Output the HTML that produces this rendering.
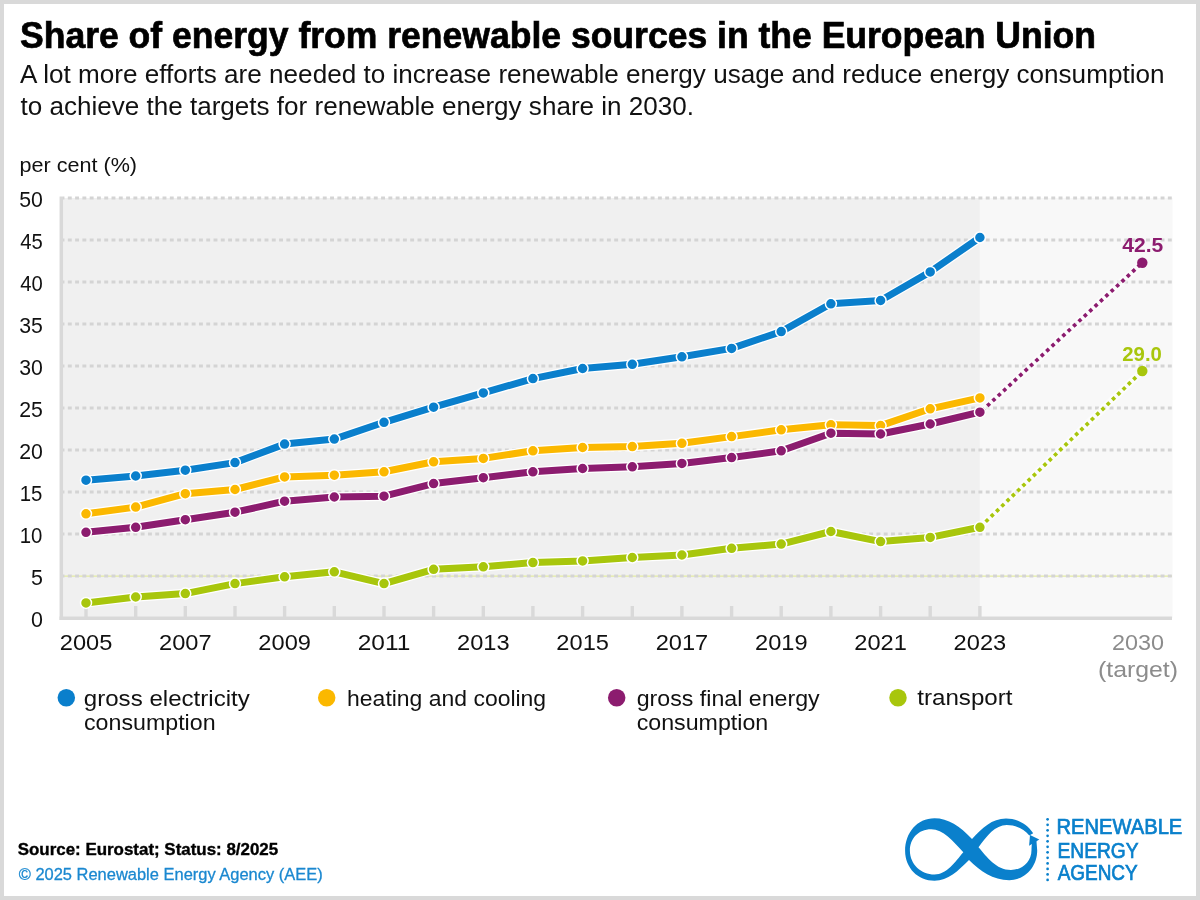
<!DOCTYPE html><html><head><meta charset="utf-8"><title>Share of energy from renewable sources in the European Union</title>
<style>html,body{margin:0;padding:0;background:#d9d9d9;}svg{display:block;}text{font-family:"Liberation Sans",Arial,sans-serif;}</style></head><body>
<svg width="1200" height="900" viewBox="0 0 1200 900">
<rect x="0" y="0" width="1200" height="900" fill="#d9d9d9"/>
<rect x="4" y="4" width="1192" height="892" fill="#ffffff"/>
<text x="20.00" y="47.50" font-size="36" font-weight="bold" fill="#000" textLength="1076.01" lengthAdjust="spacingAndGlyphs" stroke="#000" stroke-width="0.7">Share of energy from renewable sources in the European Union</text>
<text x="20.00" y="82.80" font-size="25" fill="#111111" textLength="1144.50" lengthAdjust="spacingAndGlyphs">A lot more efforts are needed to increase renewable energy usage and reduce energy consumption</text>
<text x="20.50" y="114.70" font-size="25" fill="#111111" textLength="673.51" lengthAdjust="spacingAndGlyphs">to achieve the targets for renewable energy share in 2030.</text>
<text x="19.50" y="171.90" font-size="21" fill="#111111" textLength="117.55" lengthAdjust="spacingAndGlyphs">per cent (%)</text>
<rect x="61" y="198" width="918.9" height="420" fill="#f0f0f0"/>
<rect x="979.9" y="198" width="192.6" height="420" fill="#f8f8f8"/>
<line x1="63" y1="576.2" x2="1172" y2="576.2" stroke="#e3eba0" stroke-width="1.2"/>
<line x1="63" y1="576.0" x2="1172" y2="576.0" stroke="#d4d4d4" stroke-width="3" stroke-dasharray="3.9 3.385" stroke-dashoffset="2.45"/>
<line x1="63" y1="534.0" x2="1172" y2="534.0" stroke="#d4d4d4" stroke-width="3" stroke-dasharray="3.9 3.385" stroke-dashoffset="2.45"/>
<line x1="63" y1="492.0" x2="1172" y2="492.0" stroke="#d4d4d4" stroke-width="3" stroke-dasharray="3.9 3.385" stroke-dashoffset="2.45"/>
<line x1="63" y1="450.0" x2="1172" y2="450.0" stroke="#d4d4d4" stroke-width="3" stroke-dasharray="3.9 3.385" stroke-dashoffset="2.45"/>
<line x1="63" y1="408.0" x2="1172" y2="408.0" stroke="#d4d4d4" stroke-width="3" stroke-dasharray="3.9 3.385" stroke-dashoffset="2.45"/>
<line x1="63" y1="366.0" x2="1172" y2="366.0" stroke="#d4d4d4" stroke-width="3" stroke-dasharray="3.9 3.385" stroke-dashoffset="2.45"/>
<line x1="63" y1="324.0" x2="1172" y2="324.0" stroke="#d4d4d4" stroke-width="3" stroke-dasharray="3.9 3.385" stroke-dashoffset="2.45"/>
<line x1="63" y1="282.0" x2="1172" y2="282.0" stroke="#d4d4d4" stroke-width="3" stroke-dasharray="3.9 3.385" stroke-dashoffset="2.45"/>
<line x1="63" y1="240.0" x2="1172" y2="240.0" stroke="#d4d4d4" stroke-width="3" stroke-dasharray="3.9 3.385" stroke-dashoffset="2.45"/>
<line x1="63" y1="198.0" x2="1172" y2="198.0" stroke="#d4d4d4" stroke-width="3" stroke-dasharray="3.9 3.385" stroke-dashoffset="2.45"/>
<text x="31.00" y="626.60" font-size="22" fill="#111111" textLength="11.93" lengthAdjust="spacingAndGlyphs">0</text>
<text x="31.00" y="584.60" font-size="22" fill="#111111" textLength="11.93" lengthAdjust="spacingAndGlyphs">5</text>
<text x="19.80" y="542.60" font-size="22" fill="#111111" textLength="22.66" lengthAdjust="spacingAndGlyphs">10</text>
<text x="19.80" y="500.60" font-size="22" fill="#111111" textLength="22.66" lengthAdjust="spacingAndGlyphs">15</text>
<text x="19.20" y="458.60" font-size="22" fill="#111111" textLength="23.68" lengthAdjust="spacingAndGlyphs">20</text>
<text x="19.20" y="416.60" font-size="22" fill="#111111" textLength="23.68" lengthAdjust="spacingAndGlyphs">25</text>
<text x="19.20" y="374.60" font-size="22" fill="#111111" textLength="23.68" lengthAdjust="spacingAndGlyphs">30</text>
<text x="19.20" y="332.60" font-size="22" fill="#111111" textLength="23.68" lengthAdjust="spacingAndGlyphs">35</text>
<text x="20.20" y="290.60" font-size="22" fill="#111111" textLength="22.55" lengthAdjust="spacingAndGlyphs">40</text>
<text x="20.20" y="248.60" font-size="22" fill="#111111" textLength="22.55" lengthAdjust="spacingAndGlyphs">45</text>
<text x="19.20" y="206.60" font-size="22" fill="#111111" textLength="23.68" lengthAdjust="spacingAndGlyphs">50</text>
<line x1="61.3" y1="196.5" x2="61.3" y2="619.9" stroke="#d9d9d9" stroke-width="3.5"/>
<line x1="59.5" y1="618.2" x2="1172" y2="618.2" stroke="#d9d9d9" stroke-width="3.5"/>
<line x1="86.0" y1="606" x2="86.0" y2="618" stroke="#d9d9d9" stroke-width="3.4"/>
<line x1="135.7" y1="606" x2="135.7" y2="618" stroke="#d9d9d9" stroke-width="3.4"/>
<line x1="185.3" y1="606" x2="185.3" y2="618" stroke="#d9d9d9" stroke-width="3.4"/>
<line x1="235.0" y1="606" x2="235.0" y2="618" stroke="#d9d9d9" stroke-width="3.4"/>
<line x1="284.6" y1="606" x2="284.6" y2="618" stroke="#d9d9d9" stroke-width="3.4"/>
<line x1="334.3" y1="606" x2="334.3" y2="618" stroke="#d9d9d9" stroke-width="3.4"/>
<line x1="384.0" y1="606" x2="384.0" y2="618" stroke="#d9d9d9" stroke-width="3.4"/>
<line x1="433.6" y1="606" x2="433.6" y2="618" stroke="#d9d9d9" stroke-width="3.4"/>
<line x1="483.3" y1="606" x2="483.3" y2="618" stroke="#d9d9d9" stroke-width="3.4"/>
<line x1="532.9" y1="606" x2="532.9" y2="618" stroke="#d9d9d9" stroke-width="3.4"/>
<line x1="582.6" y1="606" x2="582.6" y2="618" stroke="#d9d9d9" stroke-width="3.4"/>
<line x1="632.3" y1="606" x2="632.3" y2="618" stroke="#d9d9d9" stroke-width="3.4"/>
<line x1="681.9" y1="606" x2="681.9" y2="618" stroke="#d9d9d9" stroke-width="3.4"/>
<line x1="731.6" y1="606" x2="731.6" y2="618" stroke="#d9d9d9" stroke-width="3.4"/>
<line x1="781.2" y1="606" x2="781.2" y2="618" stroke="#d9d9d9" stroke-width="3.4"/>
<line x1="830.9" y1="606" x2="830.9" y2="618" stroke="#d9d9d9" stroke-width="3.4"/>
<line x1="880.6" y1="606" x2="880.6" y2="618" stroke="#d9d9d9" stroke-width="3.4"/>
<line x1="930.2" y1="606" x2="930.2" y2="618" stroke="#d9d9d9" stroke-width="3.4"/>
<line x1="979.9" y1="606" x2="979.9" y2="618" stroke="#d9d9d9" stroke-width="3.4"/>
<text x="59.75" y="650.30" font-size="22" fill="#111111" textLength="52.61" lengthAdjust="spacingAndGlyphs">2005</text>
<text x="159.07" y="650.30" font-size="22" fill="#111111" textLength="52.61" lengthAdjust="spacingAndGlyphs">2007</text>
<text x="258.39" y="650.30" font-size="22" fill="#111111" textLength="52.61" lengthAdjust="spacingAndGlyphs">2009</text>
<text x="357.71" y="650.30" font-size="22" fill="#111111" textLength="52.61" lengthAdjust="spacingAndGlyphs">2011</text>
<text x="457.03" y="650.30" font-size="22" fill="#111111" textLength="52.61" lengthAdjust="spacingAndGlyphs">2013</text>
<text x="556.35" y="650.30" font-size="22" fill="#111111" textLength="52.61" lengthAdjust="spacingAndGlyphs">2015</text>
<text x="655.67" y="650.30" font-size="22" fill="#111111" textLength="52.61" lengthAdjust="spacingAndGlyphs">2017</text>
<text x="754.99" y="650.30" font-size="22" fill="#111111" textLength="52.61" lengthAdjust="spacingAndGlyphs">2019</text>
<text x="854.31" y="650.30" font-size="22" fill="#111111" textLength="52.61" lengthAdjust="spacingAndGlyphs">2021</text>
<text x="953.63" y="650.30" font-size="22" fill="#111111" textLength="52.61" lengthAdjust="spacingAndGlyphs">2023</text>
<text x="1112.00" y="650.30" font-size="22" fill="#8c8c8c" textLength="52.05" lengthAdjust="spacingAndGlyphs">2030</text>
<text x="1098.00" y="677.00" font-size="22" fill="#8c8c8c" textLength="80.05" lengthAdjust="spacingAndGlyphs">(target)</text>
<line x1="979.9" y1="412.7" x2="1142.3" y2="262.7" stroke="#ffffff" stroke-opacity="0.5" stroke-width="7.5"/>
<line x1="979.9" y1="412.7" x2="1142.3" y2="262.7" stroke="#8c1c6f" stroke-width="3.7" stroke-dasharray="3.6 3.72" stroke-dashoffset="4.68"/>
<circle cx="1142.3" cy="262.7" r="5.2" fill="#8c1c6f"/>
<line x1="979.9" y1="527.3" x2="1142.3" y2="371.0" stroke="#ffffff" stroke-opacity="0.5" stroke-width="7.5"/>
<line x1="979.9" y1="527.3" x2="1142.3" y2="371.0" stroke="#a8c60c" stroke-width="3.7" stroke-dasharray="3.6 3.72" stroke-dashoffset="6.62"/>
<circle cx="1142.3" cy="371.0" r="5.2" fill="#a8c60c"/>
<text x="1122.20" y="252.20" font-size="20" font-weight="bold" fill="#8c1c6f" textLength="41.03" lengthAdjust="spacingAndGlyphs">42.5</text>
<text x="1122.30" y="361.00" font-size="20" font-weight="bold" fill="#a8c60c" textLength="39.60" lengthAdjust="spacingAndGlyphs">29.0</text>
<polyline points="86.0,480.2 135.7,476.0 185.3,470.2 235.0,462.6 284.6,444.1 334.3,439.1 384.0,422.3 433.6,407.2 483.3,392.9 532.9,378.6 582.6,368.5 632.3,364.3 681.9,356.8 731.6,348.4 781.2,331.6 830.9,303.8 880.6,300.5 930.2,271.9 979.9,237.5" fill="none" stroke="#ffffff" stroke-width="9.5" stroke-linejoin="round"/>
<polyline points="86.0,480.2 135.7,476.0 185.3,470.2 235.0,462.6 284.6,444.1 334.3,439.1 384.0,422.3 433.6,407.2 483.3,392.9 532.9,378.6 582.6,368.5 632.3,364.3 681.9,356.8 731.6,348.4 781.2,331.6 830.9,303.8 880.6,300.5 930.2,271.9 979.9,237.5" fill="none" stroke="#0a7fcc" stroke-width="7" stroke-linejoin="round"/>
<circle cx="86.0" cy="480.2" r="5.5" fill="#0a7fcc" stroke="#fff" stroke-width="1.5"/>
<circle cx="135.7" cy="476.0" r="5.5" fill="#0a7fcc" stroke="#fff" stroke-width="1.5"/>
<circle cx="185.3" cy="470.2" r="5.5" fill="#0a7fcc" stroke="#fff" stroke-width="1.5"/>
<circle cx="235.0" cy="462.6" r="5.5" fill="#0a7fcc" stroke="#fff" stroke-width="1.5"/>
<circle cx="284.6" cy="444.1" r="5.5" fill="#0a7fcc" stroke="#fff" stroke-width="1.5"/>
<circle cx="334.3" cy="439.1" r="5.5" fill="#0a7fcc" stroke="#fff" stroke-width="1.5"/>
<circle cx="384.0" cy="422.3" r="5.5" fill="#0a7fcc" stroke="#fff" stroke-width="1.5"/>
<circle cx="433.6" cy="407.2" r="5.5" fill="#0a7fcc" stroke="#fff" stroke-width="1.5"/>
<circle cx="483.3" cy="392.9" r="5.5" fill="#0a7fcc" stroke="#fff" stroke-width="1.5"/>
<circle cx="532.9" cy="378.6" r="5.5" fill="#0a7fcc" stroke="#fff" stroke-width="1.5"/>
<circle cx="582.6" cy="368.5" r="5.5" fill="#0a7fcc" stroke="#fff" stroke-width="1.5"/>
<circle cx="632.3" cy="364.3" r="5.5" fill="#0a7fcc" stroke="#fff" stroke-width="1.5"/>
<circle cx="681.9" cy="356.8" r="5.5" fill="#0a7fcc" stroke="#fff" stroke-width="1.5"/>
<circle cx="731.6" cy="348.4" r="5.5" fill="#0a7fcc" stroke="#fff" stroke-width="1.5"/>
<circle cx="781.2" cy="331.6" r="5.5" fill="#0a7fcc" stroke="#fff" stroke-width="1.5"/>
<circle cx="830.9" cy="303.8" r="5.5" fill="#0a7fcc" stroke="#fff" stroke-width="1.5"/>
<circle cx="880.6" cy="300.5" r="5.5" fill="#0a7fcc" stroke="#fff" stroke-width="1.5"/>
<circle cx="930.2" cy="271.9" r="5.5" fill="#0a7fcc" stroke="#fff" stroke-width="1.5"/>
<circle cx="979.9" cy="237.5" r="5.5" fill="#0a7fcc" stroke="#fff" stroke-width="1.5"/>
<polyline points="86.0,513.8 135.7,507.1 185.3,493.7 235.0,489.5 284.6,476.9 334.3,475.2 384.0,471.8 433.6,461.8 483.3,458.4 532.9,450.8 582.6,447.5 632.3,446.6 681.9,443.3 731.6,436.6 781.2,429.8 830.9,424.8 880.6,425.6 930.2,408.8 979.9,397.9" fill="none" stroke="#ffffff" stroke-width="9.5" stroke-linejoin="round"/>
<polyline points="86.0,513.8 135.7,507.1 185.3,493.7 235.0,489.5 284.6,476.9 334.3,475.2 384.0,471.8 433.6,461.8 483.3,458.4 532.9,450.8 582.6,447.5 632.3,446.6 681.9,443.3 731.6,436.6 781.2,429.8 830.9,424.8 880.6,425.6 930.2,408.8 979.9,397.9" fill="none" stroke="#fbb800" stroke-width="7" stroke-linejoin="round"/>
<circle cx="86.0" cy="513.8" r="5.5" fill="#fbb800" stroke="#fff" stroke-width="1.5"/>
<circle cx="135.7" cy="507.1" r="5.5" fill="#fbb800" stroke="#fff" stroke-width="1.5"/>
<circle cx="185.3" cy="493.7" r="5.5" fill="#fbb800" stroke="#fff" stroke-width="1.5"/>
<circle cx="235.0" cy="489.5" r="5.5" fill="#fbb800" stroke="#fff" stroke-width="1.5"/>
<circle cx="284.6" cy="476.9" r="5.5" fill="#fbb800" stroke="#fff" stroke-width="1.5"/>
<circle cx="334.3" cy="475.2" r="5.5" fill="#fbb800" stroke="#fff" stroke-width="1.5"/>
<circle cx="384.0" cy="471.8" r="5.5" fill="#fbb800" stroke="#fff" stroke-width="1.5"/>
<circle cx="433.6" cy="461.8" r="5.5" fill="#fbb800" stroke="#fff" stroke-width="1.5"/>
<circle cx="483.3" cy="458.4" r="5.5" fill="#fbb800" stroke="#fff" stroke-width="1.5"/>
<circle cx="532.9" cy="450.8" r="5.5" fill="#fbb800" stroke="#fff" stroke-width="1.5"/>
<circle cx="582.6" cy="447.5" r="5.5" fill="#fbb800" stroke="#fff" stroke-width="1.5"/>
<circle cx="632.3" cy="446.6" r="5.5" fill="#fbb800" stroke="#fff" stroke-width="1.5"/>
<circle cx="681.9" cy="443.3" r="5.5" fill="#fbb800" stroke="#fff" stroke-width="1.5"/>
<circle cx="731.6" cy="436.6" r="5.5" fill="#fbb800" stroke="#fff" stroke-width="1.5"/>
<circle cx="781.2" cy="429.8" r="5.5" fill="#fbb800" stroke="#fff" stroke-width="1.5"/>
<circle cx="830.9" cy="424.8" r="5.5" fill="#fbb800" stroke="#fff" stroke-width="1.5"/>
<circle cx="880.6" cy="425.6" r="5.5" fill="#fbb800" stroke="#fff" stroke-width="1.5"/>
<circle cx="930.2" cy="408.8" r="5.5" fill="#fbb800" stroke="#fff" stroke-width="1.5"/>
<circle cx="979.9" cy="397.9" r="5.5" fill="#fbb800" stroke="#fff" stroke-width="1.5"/>
<polyline points="86.0,532.3 135.7,527.3 185.3,519.7 235.0,512.2 284.6,501.2 334.3,497.0 384.0,496.2 433.6,483.6 483.3,477.7 532.9,471.8 582.6,468.5 632.3,466.8 681.9,463.4 731.6,457.6 781.2,450.8 830.9,433.2 880.6,434.0 930.2,424.0 979.9,412.2" fill="none" stroke="#ffffff" stroke-width="9.5" stroke-linejoin="round"/>
<polyline points="86.0,532.3 135.7,527.3 185.3,519.7 235.0,512.2 284.6,501.2 334.3,497.0 384.0,496.2 433.6,483.6 483.3,477.7 532.9,471.8 582.6,468.5 632.3,466.8 681.9,463.4 731.6,457.6 781.2,450.8 830.9,433.2 880.6,434.0 930.2,424.0 979.9,412.2" fill="none" stroke="#8c1c6f" stroke-width="7" stroke-linejoin="round"/>
<circle cx="86.0" cy="532.3" r="5.5" fill="#8c1c6f" stroke="#fff" stroke-width="1.5"/>
<circle cx="135.7" cy="527.3" r="5.5" fill="#8c1c6f" stroke="#fff" stroke-width="1.5"/>
<circle cx="185.3" cy="519.7" r="5.5" fill="#8c1c6f" stroke="#fff" stroke-width="1.5"/>
<circle cx="235.0" cy="512.2" r="5.5" fill="#8c1c6f" stroke="#fff" stroke-width="1.5"/>
<circle cx="284.6" cy="501.2" r="5.5" fill="#8c1c6f" stroke="#fff" stroke-width="1.5"/>
<circle cx="334.3" cy="497.0" r="5.5" fill="#8c1c6f" stroke="#fff" stroke-width="1.5"/>
<circle cx="384.0" cy="496.2" r="5.5" fill="#8c1c6f" stroke="#fff" stroke-width="1.5"/>
<circle cx="433.6" cy="483.6" r="5.5" fill="#8c1c6f" stroke="#fff" stroke-width="1.5"/>
<circle cx="483.3" cy="477.7" r="5.5" fill="#8c1c6f" stroke="#fff" stroke-width="1.5"/>
<circle cx="532.9" cy="471.8" r="5.5" fill="#8c1c6f" stroke="#fff" stroke-width="1.5"/>
<circle cx="582.6" cy="468.5" r="5.5" fill="#8c1c6f" stroke="#fff" stroke-width="1.5"/>
<circle cx="632.3" cy="466.8" r="5.5" fill="#8c1c6f" stroke="#fff" stroke-width="1.5"/>
<circle cx="681.9" cy="463.4" r="5.5" fill="#8c1c6f" stroke="#fff" stroke-width="1.5"/>
<circle cx="731.6" cy="457.6" r="5.5" fill="#8c1c6f" stroke="#fff" stroke-width="1.5"/>
<circle cx="781.2" cy="450.8" r="5.5" fill="#8c1c6f" stroke="#fff" stroke-width="1.5"/>
<circle cx="830.9" cy="433.2" r="5.5" fill="#8c1c6f" stroke="#fff" stroke-width="1.5"/>
<circle cx="880.6" cy="434.0" r="5.5" fill="#8c1c6f" stroke="#fff" stroke-width="1.5"/>
<circle cx="930.2" cy="424.0" r="5.5" fill="#8c1c6f" stroke="#fff" stroke-width="1.5"/>
<circle cx="979.9" cy="412.2" r="5.5" fill="#8c1c6f" stroke="#fff" stroke-width="1.5"/>
<polyline points="86.0,602.9 135.7,597.0 185.3,593.6 235.0,583.6 284.6,576.8 334.3,571.8 384.0,583.6 433.6,569.3 483.3,566.8 532.9,562.6 582.6,560.9 632.3,557.5 681.9,555.0 731.6,548.3 781.2,544.1 830.9,531.5 880.6,541.6 930.2,537.4 979.9,527.3" fill="none" stroke="#ffffff" stroke-width="9.5" stroke-linejoin="round"/>
<polyline points="86.0,602.9 135.7,597.0 185.3,593.6 235.0,583.6 284.6,576.8 334.3,571.8 384.0,583.6 433.6,569.3 483.3,566.8 532.9,562.6 582.6,560.9 632.3,557.5 681.9,555.0 731.6,548.3 781.2,544.1 830.9,531.5 880.6,541.6 930.2,537.4 979.9,527.3" fill="none" stroke="#a8c60c" stroke-width="7" stroke-linejoin="round"/>
<circle cx="86.0" cy="602.9" r="5.5" fill="#a8c60c" stroke="#fff" stroke-width="1.5"/>
<circle cx="135.7" cy="597.0" r="5.5" fill="#a8c60c" stroke="#fff" stroke-width="1.5"/>
<circle cx="185.3" cy="593.6" r="5.5" fill="#a8c60c" stroke="#fff" stroke-width="1.5"/>
<circle cx="235.0" cy="583.6" r="5.5" fill="#a8c60c" stroke="#fff" stroke-width="1.5"/>
<circle cx="284.6" cy="576.8" r="5.5" fill="#a8c60c" stroke="#fff" stroke-width="1.5"/>
<circle cx="334.3" cy="571.8" r="5.5" fill="#a8c60c" stroke="#fff" stroke-width="1.5"/>
<circle cx="384.0" cy="583.6" r="5.5" fill="#a8c60c" stroke="#fff" stroke-width="1.5"/>
<circle cx="433.6" cy="569.3" r="5.5" fill="#a8c60c" stroke="#fff" stroke-width="1.5"/>
<circle cx="483.3" cy="566.8" r="5.5" fill="#a8c60c" stroke="#fff" stroke-width="1.5"/>
<circle cx="532.9" cy="562.6" r="5.5" fill="#a8c60c" stroke="#fff" stroke-width="1.5"/>
<circle cx="582.6" cy="560.9" r="5.5" fill="#a8c60c" stroke="#fff" stroke-width="1.5"/>
<circle cx="632.3" cy="557.5" r="5.5" fill="#a8c60c" stroke="#fff" stroke-width="1.5"/>
<circle cx="681.9" cy="555.0" r="5.5" fill="#a8c60c" stroke="#fff" stroke-width="1.5"/>
<circle cx="731.6" cy="548.3" r="5.5" fill="#a8c60c" stroke="#fff" stroke-width="1.5"/>
<circle cx="781.2" cy="544.1" r="5.5" fill="#a8c60c" stroke="#fff" stroke-width="1.5"/>
<circle cx="830.9" cy="531.5" r="5.5" fill="#a8c60c" stroke="#fff" stroke-width="1.5"/>
<circle cx="880.6" cy="541.6" r="5.5" fill="#a8c60c" stroke="#fff" stroke-width="1.5"/>
<circle cx="930.2" cy="537.4" r="5.5" fill="#a8c60c" stroke="#fff" stroke-width="1.5"/>
<circle cx="979.9" cy="527.3" r="5.5" fill="#a8c60c" stroke="#fff" stroke-width="1.5"/>
<circle cx="66.3" cy="697.8" r="8.75" fill="#0a7fcc"/>
<circle cx="326.7" cy="697.8" r="8.75" fill="#fbb800"/>
<circle cx="616.7" cy="697.8" r="8.75" fill="#8c1c6f"/>
<circle cx="898.0" cy="697.8" r="8.75" fill="#a8c60c"/>
<text x="83.80" y="705.50" font-size="22" fill="#111111" textLength="166.01" lengthAdjust="spacingAndGlyphs">gross electricity</text>
<text x="84.00" y="729.50" font-size="22" fill="#111111" textLength="131.54" lengthAdjust="spacingAndGlyphs">consumption</text>
<text x="347.10" y="705.50" font-size="22" fill="#111111" textLength="199.03" lengthAdjust="spacingAndGlyphs">heating and cooling</text>
<text x="636.70" y="705.50" font-size="22" fill="#111111" textLength="183.01" lengthAdjust="spacingAndGlyphs">gross final energy</text>
<text x="636.70" y="729.50" font-size="22" fill="#111111" textLength="131.54" lengthAdjust="spacingAndGlyphs">consumption</text>
<text x="917.25" y="705.30" font-size="22" fill="#111111" textLength="95.25" lengthAdjust="spacingAndGlyphs">transport</text>
<text x="17.70" y="855.00" font-size="16.3" font-weight="bold" fill="#000" textLength="260.51" lengthAdjust="spacingAndGlyphs" stroke="#000" stroke-width="0.35">Source: Eurostat; Status: 8/2025</text>
<text x="18.70" y="880.40" font-size="16.8" fill="#1a88d0" textLength="304.00" lengthAdjust="spacingAndGlyphs" stroke="#1a88d0" stroke-width="0.3">© 2025 Renewable Energy Agency (AEE)</text>
<path d="M 972 839 C 960 826, 948 818.2, 934.5 818.2 C 917 818.2, 905.1 833, 905.1 850.7 C 905.1 868, 918 880.7, 934.5 880.7 C 948 880.7, 958 871, 969 860 C 980 871, 993 880.2, 1009.3 880.2 C 1026 880.2, 1037.2 866, 1037.2 850.6 L 1036.4 840.2 L 1031.9 843.0 C 1031.7 846, 1031.5 848, 1031.5 850 C 1031.5 862, 1022 870, 1011 870 C 996 870, 987 857, 978.5 847.3 C 987 836, 995 825.1, 1006.8 825.1 C 1016 825.1, 1024 829, 1029.3 835.6 L 1033.2 833.2 C 1027 824, 1017 818.4, 1006 818.4 C 992 818.4, 982 828, 972 839 Z M 963.3 852.3 C 953 841, 943 829.3, 931.25 829.3 C 918 829.3, 909.9 839, 909.9 850.7 C 909.9 864, 921 874.5, 934.5 874.5 C 947 874.5, 955 862, 963.3 852.3 Z" fill="#0a80cc" fill-rule="evenodd"/>
<polygon points="1030,835 1039.3,839.4 1029.1,845.7" fill="#0a80cc"/>
<circle cx="1047.6" cy="819.30" r="1.35" fill="#0a80cc"/>
<circle cx="1047.6" cy="824.81" r="1.35" fill="#0a80cc"/>
<circle cx="1047.6" cy="830.32" r="1.35" fill="#0a80cc"/>
<circle cx="1047.6" cy="835.83" r="1.35" fill="#0a80cc"/>
<circle cx="1047.6" cy="841.34" r="1.35" fill="#0a80cc"/>
<circle cx="1047.6" cy="846.85" r="1.35" fill="#0a80cc"/>
<circle cx="1047.6" cy="852.36" r="1.35" fill="#0a80cc"/>
<circle cx="1047.6" cy="857.87" r="1.35" fill="#0a80cc"/>
<circle cx="1047.6" cy="863.38" r="1.35" fill="#0a80cc"/>
<circle cx="1047.6" cy="868.89" r="1.35" fill="#0a80cc"/>
<circle cx="1047.6" cy="874.40" r="1.35" fill="#0a80cc"/>
<circle cx="1047.6" cy="879.91" r="1.35" fill="#0a80cc"/>
<text x="1056.50" y="834.00" font-size="21.3" fill="#0a80cc" textLength="125.80" lengthAdjust="spacingAndGlyphs" stroke="#0a80cc" stroke-width="0.7">RENEWABLE</text>
<text x="1057.50" y="857.50" font-size="21.3" fill="#0a80cc" textLength="81.05" lengthAdjust="spacingAndGlyphs" stroke="#0a80cc" stroke-width="0.7">ENERGY</text>
<text x="1057.70" y="880.20" font-size="21.3" fill="#0a80cc" textLength="80.01" lengthAdjust="spacingAndGlyphs" stroke="#0a80cc" stroke-width="0.7">AGENCY</text>
</svg></body></html>
